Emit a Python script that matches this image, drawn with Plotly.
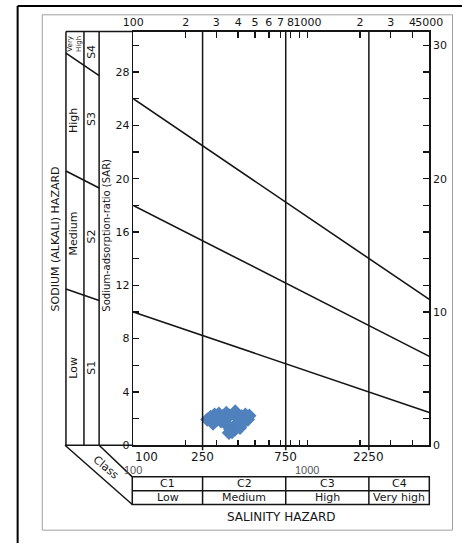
import math
import plotly.graph_objects as go

W, H = 476, 550

# ---------------- data ----------------
ec_samples = [266, 278, 293, 310, 325, 342, 357, 385, 397, 418, 440, 464, 455,
              427, 401, 377, 361, 351, 337, 319, 300, 287, 369, 385, 410, 354]
sar_samples = [1.93, 2.13, 2.30, 2.37, 2.17, 2.42, 2.22, 2.54, 2.05, 2.17, 2.30,
               2.22, 1.93, 1.68, 1.48, 1.39, 1.19, 1.43, 1.68, 1.80, 1.87, 1.63,
               0.99, 1.19, 1.31, 0.94]

boundary_ec = [100, 5000]
s1_s2 = [10.0, 2.45]
s2_s3 = [18.0, 6.67]
s3_s4 = [26.0, 10.94]

class_edges = [100, 250, 750, 2250, 5000]
class_codes = ["C1", "C2", "C3", "C4"]
class_names = ["Low", "Medium", "High", "Very high"]

top_tick_vals = [100, 200, 300, 400, 500, 600, 700, 800, 900, 1000, 2000, 3000, 4000, 5000]
top_tick_text = ["100", "2", "3", "4", "5", "6", "7", "8", "", "1000", "2", "3", "4", "5000"]

left_tick_vals = list(range(0, 31, 2))
left_tick_text = [str(v) if (v % 4 == 0 and v <= 28) else "" for v in left_tick_vals]
right_tick_vals = list(range(0, 31, 2))
right_tick_text = [str(v) if v % 10 == 0 else "" for v in right_tick_vals]

sodium_classes = ["Low", "Medium", "High"]
sodium_codes = ["S1", "S2", "S3", "S4"]

# ---------------- geometry (pixels) ----------------
X0, X1 = 129, 441.5      # plot area left/right
YB, YT = 451, 32         # plot area bottom/top
SAR_PER_PX = 1 / 13.5
YMAX = (YB - YT) * SAR_PER_PX
LOGMIN, LOGMAX = 2.0, math.log10(5000)


def px(x):
    return x / W


def py(y):
    return 1 - y / H


FONT = "DejaVu Sans"
BLACK = "#151515"

fig = go.Figure()

for b in (s1_s2, s2_s3, s3_s4):
    fig.add_trace(go.Scatter(x=boundary_ec, y=b, mode="lines",
                             line=dict(color=BLACK, width=1.6),
                             hoverinfo="skip", showlegend=False))

fig.add_trace(go.Scatter(x=ec_samples, y=sar_samples, mode="markers",
                         marker=dict(symbol="diamond", size=11, color="#4F81BD"),
                         showlegend=False))

fig.add_trace(go.Scatter(x=[100], y=[0], xaxis="x2", yaxis="y", mode="markers",
                         marker=dict(opacity=0), showlegend=False, hoverinfo="skip"))
fig.add_trace(go.Scatter(x=[100], y=[0], xaxis="x", yaxis="y2", mode="markers",
                         marker=dict(opacity=0), showlegend=False, hoverinfo="skip"))

shapes = []


def pline(x0, y0, x1, y1, w=1.5, color=BLACK):
    shapes.append(dict(type="line", xref="paper", yref="paper",
                       x0=px(x0), y0=py(y0), x1=px(x1), y1=py(y1),
                       line=dict(color=color, width=w)))


for ec in class_edges[1:-1]:
    shapes.append(dict(type="line", xref="x", yref="paper", x0=ec, x1=ec,
                       y0=py(YT), y1=py(YB + 5), line=dict(color=BLACK, width=1.5)))
    shapes.append(dict(type="line", xref="x", yref="paper", x0=ec, x1=ec,
                       y0=py(483), y1=py(511), line=dict(color=BLACK, width=1.5)))

strip_x = [58, 77, 93]
for sx in strip_x:
    pline(sx, YT, sx, YB)
pline(58, YT, X0, YT)
pline(57, YB, X0, YB)


def sar_at(b, logec):
    slope = (b[1] - b[0]) / (LOGMAX - LOGMIN)
    return b[0] + slope * (logec - LOGMIN)


def pix_to_log(x):
    return LOGMIN + (x - X0) / (X1 - X0) * (LOGMAX - LOGMIN)


for b in (s1_s2, s2_s3, s3_s4):
    xa, xb = 58, 93
    shapes.append(dict(type="line", xref="paper", yref="y",
                       x0=px(xa), x1=px(xb),
                       y0=sar_at(b, pix_to_log(xa)), y1=sar_at(b, pix_to_log(xb)),
                       line=dict(color=BLACK, width=1.6)))

pline(57, YB, 128, 511)
pline(93, YB, 128, 483)

shapes.append(dict(type="rect", xref="paper", yref="paper",
                   x0=px(128), x1=px(X1), y0=py(483), y1=py(511),
                   line=dict(color=BLACK, width=1.5)))
pline(128, 497, X1, 497)

shapes.append(dict(type="rect", xref="paper", yref="paper",
                   x0=px(33), x1=px(466), y0=py(15), y1=py(537),
                   line=dict(color="#a0a0a0", width=1)))
pline(7, 6, 476, 6, w=2, color="#000")
pline(7, 6, 7, 550, w=2, color="#000")

ann = []


def text(x, y, s, size=11, angle=0, xanchor="center", color=BLACK, family=FONT, xref="paper"):
    ann.append(dict(x=x if xref != "paper" else px(x), y=py(y), xref=xref, yref="paper",
                    text=s, showarrow=False, textangle=angle, xanchor=xanchor,
                    yanchor="middle", font=dict(size=size, color=color, family=family)))


text(47, 242, "SODIUM (ALKALI) HAZARD", size=11, angle=-90)
text(101, 238, "Sodium-adsorption-ratio (SAR)", size=10, angle=-90)
text(67, 44, "Very<br>High", size=7, angle=-90)
sod_y = [373, 237, 122]
for s, y in zip(sodium_classes, sod_y):
    text(66, y, s, size=11, angle=-90)
code_y = [373, 240, 121, 53]
for s, y in zip(sodium_codes, code_y):
    text(85, y, s, size=11, angle=-90)
text(100, 474, "Class", size=11, angle=40)

text(math.log10(class_edges[0]), 463, "100", size=12, xanchor="left", xref="x")
for ec in class_edges[1:-1]:
    text(math.log10(ec), 463, str(ec), size=12, xref="x")
text(2, 476, "100", size=11, color="#555", family="Liberation Sans", xref="x")
text(3, 476, "1000", size=11, color="#555", family="Liberation Sans", xref="x")

for i in range(4):
    cx = 0.5 * (math.log10(class_edges[i]) + math.log10(class_edges[i + 1]))
    text(cx, 490, class_codes[i], size=11, xref="x")
    text(cx, 504, class_names[i], size=11, xref="x")

text(285, 524, "SALINITY HAZARD", size=12)

axis_common = dict(showgrid=False, zeroline=False, showline=True, linecolor=BLACK,
                   linewidth=1.5, ticks="inside", tickcolor=BLACK, tickwidth=1.5,
                   tickangle=0,
                   tickfont=dict(size=11, color=BLACK, family=FONT))

fig.update_layout(
    width=W, height=H, autosize=False, margin=dict(l=0, r=0, t=0, b=0, pad=0),
    paper_bgcolor="white", plot_bgcolor="white",
    font=dict(family=FONT, color=BLACK),
    showlegend=False,
    xaxis=dict(type="log", range=[LOGMIN, LOGMAX], domain=[px(X0), px(X1)],
               anchor="y", tickvals=top_tick_vals, showticklabels=False,
               ticklen=5, **axis_common),
    xaxis2=dict(type="log", range=[LOGMIN, LOGMAX], domain=[px(X0), px(X1)],
                overlaying="x", side="top", anchor="y", tickvals=top_tick_vals,
                ticktext=top_tick_text, ticklen=6, **axis_common),
    yaxis=dict(range=[0, YMAX], domain=[py(YB), py(YT)], anchor="x",
               tickvals=left_tick_vals, ticktext=left_tick_text, ticklen=6,
               **axis_common),
    yaxis2=dict(range=[0, YMAX], domain=[py(YB), py(YT)], overlaying="y",
                side="right", anchor="x", tickvals=right_tick_vals,
                ticktext=right_tick_text, ticklen=6, **axis_common),
    shapes=shapes,
    annotations=ann,
)

fig.write_html(
    "out.html",
    config={"responsive": False, "displayModeBar": False, "staticPlot": True},
    post_script="document.body.style.margin='0';document.body.style.padding='0';"
                "document.documentElement.style.overflow='hidden';",
)
